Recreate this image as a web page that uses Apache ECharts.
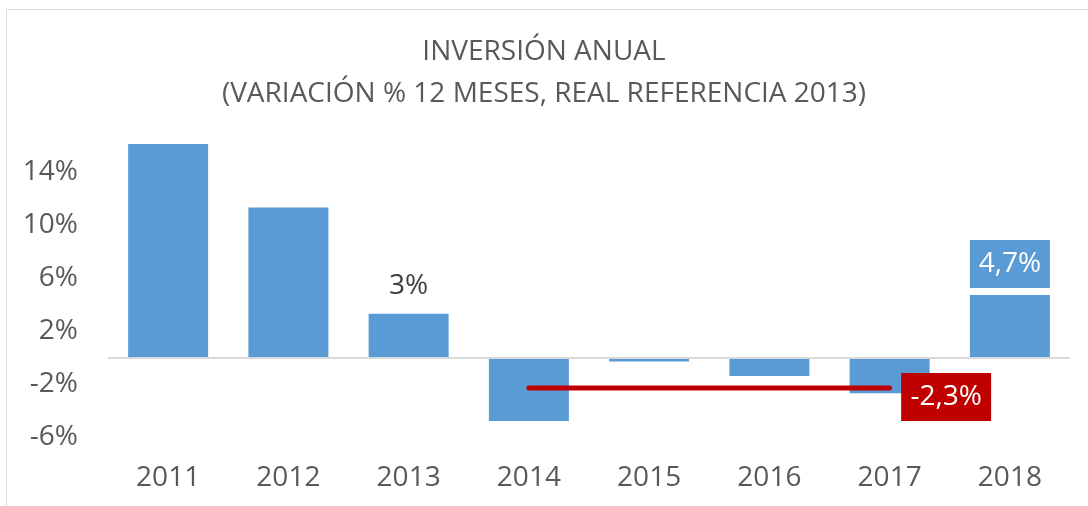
<!DOCTYPE html>
<html>
<head>
<meta charset="utf-8">
<script src="https://cdn.jsdelivr.net/npm/echarts@6/dist/echarts.min.js"></script>
<style>
html,body{margin:0;padding:0;background:#fff;}
#c{width:1088px;height:506px;}
</style>
</head>
<body>
<div id="c"></div>
<script>
const categories = ['2011','2012','2013','2014','2015','2016','2017','2018'];
const values = [16.1, 11.3, 3.3, -4.8, -0.3, -1.4, -2.7, 4.7];
const avgLine = [null, null, null, -2.3, -2.3, -2.3, -2.3, null];
const yTicks = [-6, -2, 2, 6, 10, 14];
const titleText = 'INVERSIÓN ANUAL\n(VARIACIÓN % 12 MESES, REAL REFERENCIA 2013)';

const FONT = 'Open Sans';
const chart = echarts.init(document.getElementById('c'));
chart.setOption({
  animation: false,
  backgroundColor: '#fff',
  textStyle: {fontFamily: FONT},
  graphic: [{
    type: 'rect', silent: true,
    shape: {x: 6.5, y: 9.5, width: 1200, height: 600},
    style: {fill: 'none', stroke: '#d9d9d9', lineWidth: 1}
  }],
  title: {
    text: titleText,
    left: 'center',
    top: 26,
    textStyle: {fontFamily: FONT, fontSize: 28, fontWeight: 'normal', color: '#595959', lineHeight: 42}
  },
  grid: {left: 108, right: 18, top: 132, bottom: 69, containLabel: false},
  xAxis: {
    type: 'category',
    data: categories,
    axisLine: {show: false},
    axisTick: {show: false},
    axisLabel: {fontFamily: FONT, fontSize: 28, color: '#595959', margin: 27}
  },
  yAxis: {
    type: 'value',
    min: -6, max: 17, interval: 4,
    splitLine: {show: false},
    axisLine: {show: false},
    axisTick: {show: false},
    axisLabel: {
      fontFamily: FONT, fontSize: 28, color: '#595959', margin: 30,
      showMaxLabel: false,
      formatter: v => yTicks.indexOf(v) >= 0 ? v + '%' : ''
    }
  },
  series: [{
    type: 'bar',
    data: values.map((v, i) => {
      const d = {value: v};
      if (i === 2) {
        d.label = {show: true, position: 'top', distance: 14, formatter: '3%',
          fontFamily: FONT, fontSize: 28, color: '#404040'};
      }
      if (i === 7) {
        d.label = {show: true, position: 'top', distance: 7, formatter: '4,7%',
          fontFamily: FONT, fontSize: 28, color: '#fff',
          backgroundColor: '#5b9bd5', width: 80, height: 48, lineHeight: 48, align: 'center',
          padding: 0};
      }
      return d;
    }),
    barWidth: 80,
    itemStyle: {color: '#5b9bd5'},
    markLine: {
      silent: true, symbol: 'none',
      label: {show: false},
      lineStyle: {color: '#d9d9d9', width: 2, type: 'solid'},
      data: [{yAxis: 0}]
    },
    z: 2
  }, {
    type: 'line',
    data: avgLine.map((v, i) => {
      if (i === 6) {
        return {value: v, label: {show: true, position: 'right', distance: 56,
          formatter: '-2,3%', fontFamily: FONT, fontSize: 28, color: '#fff',
          backgroundColor: '#c00000', width: 90, height: 48, lineHeight: 48, align: 'center',
          padding: 0, offset: [0, 9]}};
      }
      return v;
    }),
    symbol: 'circle',
    symbolSize: 1,
    showSymbol: true,
    itemStyle: {color: '#c00000'},
    lineStyle: {color: '#c00000', width: 5, cap: 'round'},
    z: 3
  }]
});
</script>
</body>
</html>
